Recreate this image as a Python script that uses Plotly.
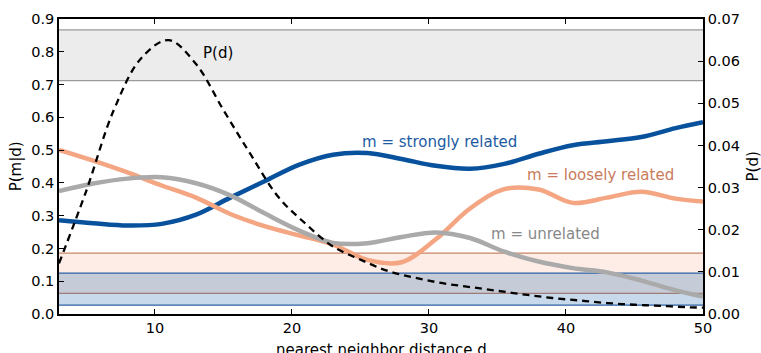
import plotly.graph_objects as go

# ---- data ----
x_grid = [3, 5.5, 8, 10.5, 13, 15.5, 18, 20.5, 23, 25.5, 28, 30.5, 33, 35.5, 38, 40.5, 43, 45.5, 48, 50]
y_strong = [0.286, 0.277, 0.270, 0.275, 0.303, 0.355, 0.405, 0.455, 0.486, 0.491, 0.473, 0.452, 0.443, 0.458, 0.489, 0.515, 0.527, 0.540, 0.567, 0.585]
y_loose = [0.501, 0.468, 0.432, 0.392, 0.355, 0.305, 0.268, 0.240, 0.212, 0.165, 0.158, 0.228, 0.322, 0.381, 0.380, 0.339, 0.355, 0.373, 0.352, 0.343]
y_unrel = [0.375, 0.398, 0.413, 0.417, 0.399, 0.362, 0.307, 0.255, 0.217, 0.216, 0.235, 0.249, 0.232, 0.190, 0.160, 0.140, 0.127, 0.102, 0.072, 0.053]

x_pd = [3, 5, 7, 9, 11, 13, 15, 17, 19, 21, 23, 25, 27, 29, 31, 33, 35, 37, 39, 41, 43, 45, 47, 49, 50]
y_pd = [0.0120, 0.0293, 0.0484, 0.0607, 0.0650, 0.0593, 0.0484, 0.0378, 0.0278, 0.0214, 0.0160, 0.0129, 0.0102, 0.0086, 0.0073, 0.0064, 0.0055, 0.0046, 0.0038, 0.0032, 0.0026, 0.0022, 0.0019, 0.0016, 0.0015]

# horizontal bands (lower, upper)
band_gray = (0.712, 0.867)
band_loose = (0.063, 0.186)
band_strong = (0.027, 0.125)

x_ticks = [10, 20, 30, 40, 50]
y_ticks = [0.0, 0.1, 0.2, 0.3, 0.4, 0.5, 0.6, 0.7, 0.8, 0.9]
y2_ticks = [0.0, 0.01, 0.02, 0.03, 0.04, 0.05, 0.06, 0.07]

FONT = "DejaVu Sans"
C_STRONG = "#08519c"
C_LOOSE = "#f4a582"
C_UNREL = "#aaaaaa"

fig = go.Figure()
for ys, col in ((y_strong, C_STRONG), (y_loose, C_LOOSE), (y_unrel, C_UNREL)):
    fig.add_trace(go.Scatter(x=x_grid, y=ys, mode="lines",
                             line=dict(color=col, width=4.5, shape="spline", smoothing=1.0),
                             showlegend=False, hoverinfo="skip"))
fig.add_trace(go.Scatter(x=x_pd, y=y_pd, mode="lines", yaxis="y2",
                         line=dict(color="black", width=2.3, dash="7px,5px", shape="spline", smoothing=1.0),
                         showlegend=False, hoverinfo="skip"))

shapes = []
def band(lo, hi, fill, edge):
    shapes.append(dict(type="rect", xref="paper", yref="y", x0=0, x1=1, y0=lo, y1=hi,
                       fillcolor=fill, line=dict(width=0), layer="below"))
    for v in (lo, hi):
        shapes.append(dict(type="line", xref="paper", yref="y", x0=0, x1=1, y0=v, y1=v,
                           line=dict(color=edge, width=1.2), layer="below"))

band(*band_gray, "#ececec", "#9a9a9a")
band(*band_loose, "rgba(244,165,130,0.2)", "#c98466")
band(*band_strong, "rgba(33,102,172,0.25)", "#2e63a6")

def ann(x, y, text, color, xref="x", yref="y", angle=0):
    return dict(x=x, y=y, xref=xref, yref=yref, text=text, showarrow=False, textangle=angle,
                xanchor="center", yanchor="middle",
                font=dict(family=FONT, size=15, color=color))

annotations = [
    ann(14.6, 0.797, "P(d)", "black"),
    ann(30.8, 0.526, "m = strongly related", "#1c5ba3"),
    ann(42.5, 0.425, "m = loosely related", "#c97b5b"),
    ann(38.5, 0.245, "m = unrelated", "#888888"),
    ann(-0.067, 0.5, "P(m|d)", "black", "paper", "paper", -90),
    ann(1.0776, 0.5, "P(d)", "black", "paper", "paper", -90),
    ann(0.5, -0.121, "nearest neighbor distance d", "black", "paper", "paper"),
]

tickfont = dict(family=FONT, size=14.5, color="black")
fig.update_layout(
    width=761, height=353,
    margin=dict(l=59, r=58, t=19, b=39),
    plot_bgcolor="white", paper_bgcolor="white",
    shapes=shapes, annotations=annotations,
    xaxis=dict(range=[3, 50], tickvals=x_ticks, ticktext=[str(v) for v in x_ticks],
               ticks="inside", ticklen=5, tickcolor="black", showline=True, linecolor="black",
               linewidth=1.5, mirror="ticks", showgrid=False, zeroline=False, tickfont=tickfont),
    yaxis=dict(range=[0, 0.9], tickvals=y_ticks, ticktext=[f"{v:.1f}" for v in y_ticks],
               ticks="inside", ticklen=5, tickcolor="black", showline=True, linecolor="black",
               linewidth=1.5, showgrid=False, zeroline=False, tickfont=tickfont),
    yaxis2=dict(range=[0, 0.07], tickvals=y2_ticks, ticktext=[f"{v:.2f}" for v in y2_ticks],
                overlaying="y", side="right", ticks="inside", ticklen=5, tickcolor="black",
                showline=True, linecolor="black", linewidth=1.5, showgrid=False, zeroline=False,
                tickfont=tickfont),
)

fig.write_html("out.html")
